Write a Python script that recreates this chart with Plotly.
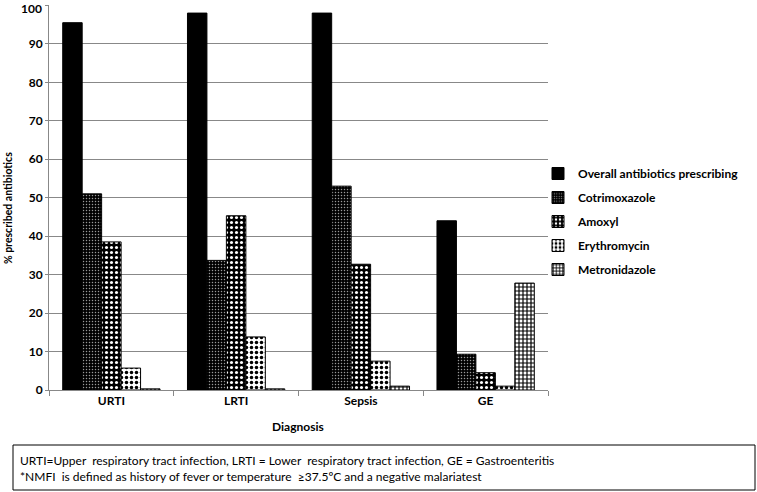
import plotly.graph_objects as go

# Data
diagnoses = ["URTI", "LRTI", "Sepsis", "GE"]
overall = [95.5, 98.0, 98.0, 44.0]
cotrimoxazole = [51.0, 33.7, 53.0, 9.3]
amoxyl = [38.5, 45.3, 32.7, 4.5]
erythromycin = [5.7, 13.8, 7.5, 1.0]
metronidazole = [0.3, 0.3, 1.0, 27.8]
y_ticks = [0, 10, 20, 30, 40, 50, 60, 70, 80, 90, 100]

FONT = "Lato"

series = [
    ("Overall antibiotics prescribing", overall, dict(shape="", bgcolor="black", fgcolor="black")),
    ("Cotrimoxazole", cotrimoxazole, dict(shape=".", bgcolor="black", fgcolor="#999999", size=3, solidity=0.2)),
    ("Amoxyl", amoxyl, dict(shape=".", bgcolor="black", fgcolor="white", size=5, solidity=0.3)),
    ("Erythromycin", erythromycin, dict(shape=".", bgcolor="white", fgcolor="black", size=5, solidity=0.38)),
    ("Metronidazole", metronidazole, dict(shape="+", bgcolor="white", fgcolor="black", size=4, solidity=0.5)),
]

fig = go.Figure()
for i, (name, vals, pat) in enumerate(series):
    fig.add_trace(go.Bar(
        name=name,
        x=diagnoses,
        y=vals,
        legendgroup=str(i),
        marker=dict(color="black", pattern=dict(fillmode="replace", **pat),
                    line=dict(color="black", width=1)),
    ))

# plot area in pixels: x 49..548, y 5..390
L, R, T, B = 49, 548, 5, 390
W, H = 757, 492
pw = R - L
ph = B - T

fig.update_layout(
    width=W, height=H,
    margin=dict(l=L, r=W - R, t=T, b=H - B, autoexpand=False),
    paper_bgcolor="white", plot_bgcolor="white",
    barmode="group", bargap=0.22, bargroupgap=0,
    font=dict(family=FONT, size=11, color="black"),
    legend=dict(x=(538 - L) / pw, y=(B - 159) / ph, xanchor="left", yanchor="top",
                tracegroupgap=5, itemwidth=30, bgcolor="rgba(0,0,0,0)",
                font=dict(family=FONT, size=12, color="black", weight="bold")),
    showlegend=True,
)

fig.update_xaxes(
    automargin=False,
    showline=True, linecolor="#888888", linewidth=1,
    ticks="outside", tickson="boundaries", ticklen=5, tickcolor="#888888",
    tickfont=dict(family=FONT, size=12, color="black", weight="bold"),
)
fig.update_yaxes(
    automargin=False,
    range=[0, 100.1], tickvals=y_ticks,
    showline=True, linecolor="#888888", linewidth=1,
    ticks="outside", ticklen=3, tickcolor="#888888",
    showgrid=True, gridcolor="#888888", gridwidth=1,
    zeroline=False,
    tickfont=dict(family=FONT, size=12, color="black", weight="bold"),
)

# the top tick label sits at the very edge of the figure and plotly drops it,
# so draw it as an annotation hanging from the top edge
fig.add_annotation(xref="paper", yref="paper", x=(43 - L) / pw, y=(B + 0.5) / ph,
                   xanchor="right", yanchor="top", text="<b>100</b>", showarrow=False,
                   borderpad=0, font=dict(family=FONT, size=12, color="black"))

# axis titles
fig.add_annotation(xref="paper", yref="paper", x=(298 - L) / pw, y=(B - 427) / ph,
                   xanchor="center", yanchor="middle",
                   text="<b>Diagnosis</b>", showarrow=False,
                   font=dict(family=FONT, size=12, color="black"))
fig.add_annotation(xref="paper", yref="paper", x=(8 - L) / pw, y=(B - 208) / ph,
                   xanchor="center", yanchor="middle",
                   text="<b>% prescribed antibiotics</b>", showarrow=False, textangle=-90,
                   font=dict(family=FONT, size=10.5, color="black"))

# footnote box
fig.add_shape(type="rect", xref="paper", yref="paper",
              x0=(13 - L) / pw, x1=(755 - L) / pw,
              y0=(B - 490) / ph, y1=(B - 445) / ph,
              line=dict(color="black", width=1), fillcolor="white")
fig.add_annotation(
    xref="paper", yref="paper", x=(18 - L) / pw, y=(B - 468) / ph,
    xanchor="left", yanchor="middle",
    text=("URTI=Upper  respiratory tract infection, LRTI = Lower  respiratory tract infection, GE = Gastroenteritis"
          "<br>*NMFI  is defined as history of fever or temperature  ≥37.5ºC and a negative malariatest"),
    showarrow=False, align="left",
    font=dict(family=FONT, size=12, color="black"),
)

# drop the page's default body margin so the figure sits at the window corner
fig.write_html("out.html", config={"displayModeBar": False},
               post_script="document.body.style.margin='0';")
